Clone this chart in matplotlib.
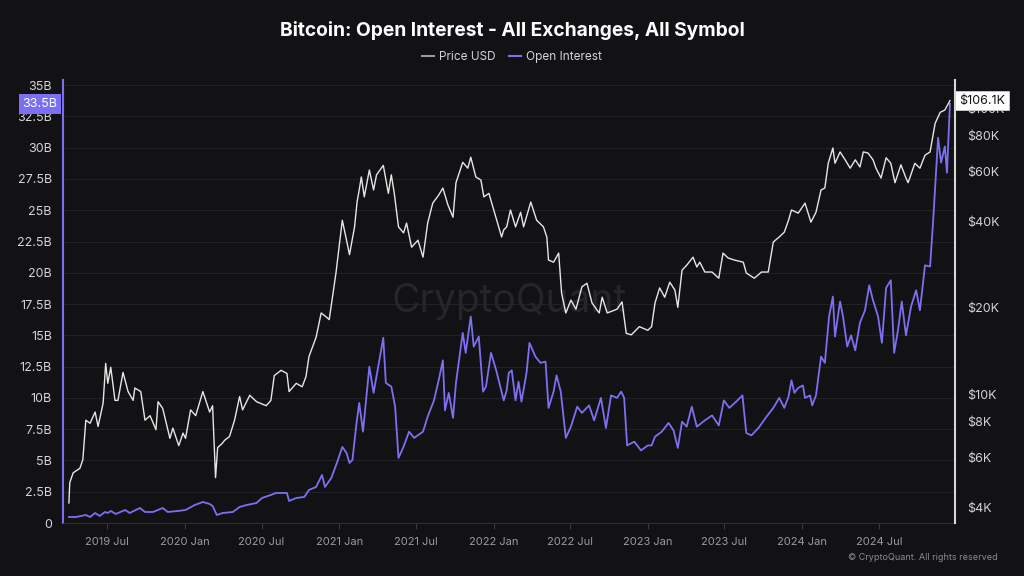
import matplotlib
matplotlib.use("Agg")
import matplotlib.pyplot as plt
import matplotlib.dates as mdates
from matplotlib.lines import Line2D
from matplotlib.ticker import FixedLocator, NullLocator
import pandas as pd

# ---------------- data ----------------
price_dates = [
    "2019-04-02", "2019-04-04", "2019-04-12", "2019-04-28", "2019-05-05", "2019-05-12", "2019-05-22",
    "2019-06-03", "2019-06-10", "2019-06-22", "2019-06-28", "2019-07-03", "2019-07-10", "2019-07-20",
    "2019-07-27", "2019-08-08", "2019-08-20", "2019-09-01", "2019-09-05", "2019-09-19", "2019-09-29",
    "2019-10-11", "2019-10-25", "2019-10-30", "2019-11-10", "2019-11-27", "2019-12-04", "2019-12-18",
    "2019-12-28", "2020-01-03", "2020-01-15", "2020-01-27", "2020-02-13", "2020-02-29", "2020-03-07",
    "2020-03-14", "2020-03-19", "2020-03-29", "2020-04-05", "2020-04-16", "2020-04-28", "2020-05-10",
    "2020-05-17", "2020-06-03", "2020-06-19", "2020-07-12", "2020-07-23", "2020-07-31", "2020-08-16",
    "2020-08-30", "2020-09-04", "2020-09-21", "2020-10-05", "2020-10-14", "2020-10-21", "2020-11-07",
    "2020-11-19", "2020-12-01", "2020-12-08", "2020-12-24", "2021-01-08", "2021-01-18", "2021-01-25",
    "2021-02-06", "2021-02-12", "2021-02-17", "2021-02-22", "2021-03-01", "2021-03-13", "2021-03-23",
    "2021-03-30", "2021-04-15", "2021-04-27", "2021-05-04", "2021-05-11", "2021-05-21", "2021-06-02",
    "2021-06-09", "2021-06-21", "2021-07-06", "2021-07-18", "2021-07-29", "2021-08-10", "2021-08-24",
    "2021-09-03", "2021-09-15", "2021-09-27", "2021-10-04", "2021-10-20", "2021-11-01", "2021-11-08",
    "2021-11-20", "2021-12-02", "2021-12-09", "2021-12-21", "2022-01-03", "2022-01-20", "2022-01-25",
    "2022-02-01", "2022-02-10", "2022-02-22", "2022-03-06", "2022-03-13", "2022-03-30", "2022-04-13",
    "2022-04-29", "2022-05-07", "2022-05-11", "2022-05-23", "2022-06-04", "2022-06-11", "2022-06-21",
    "2022-07-03", "2022-07-15", "2022-07-29", "2022-08-10", "2022-08-22", "2022-09-08", "2022-09-15",
    "2022-09-27", "2022-10-20", "2022-11-01", "2022-11-11", "2022-11-23", "2022-12-12", "2023-01-01",
    "2023-01-10", "2023-01-18", "2023-01-29", "2023-02-10", "2023-02-22", "2023-03-06", "2023-03-13",
    "2023-03-23", "2023-04-03", "2023-04-18", "2023-04-27", "2023-05-04", "2023-05-16", "2023-06-02",
    "2023-06-18", "2023-06-28", "2023-07-10", "2023-07-25", "2023-08-15", "2023-08-22", "2023-09-10",
    "2023-09-27", "2023-10-13", "2023-10-25", "2023-11-08", "2023-11-20", "2023-11-30", "2023-12-07",
    "2023-12-23", "2024-01-08", "2024-01-22", "2024-02-03", "2024-02-15", "2024-02-24", "2024-03-03",
    "2024-03-14", "2024-03-19", "2024-03-31", "2024-04-12", "2024-04-24", "2024-05-06", "2024-05-17",
    "2024-05-25", "2024-06-05", "2024-06-17", "2024-06-24", "2024-07-06", "2024-07-18", "2024-07-29",
    "2024-08-08", "2024-08-22", "2024-09-03", "2024-09-08", "2024-09-24", "2024-10-06", "2024-10-18",
    "2024-10-30", "2024-11-11", "2024-11-23", "2024-12-04", "2024-12-16",
]
price_usd = [
    4160, 4900, 5300, 5500, 5900, 8100, 7900,
    8650, 7700, 9300, 12800, 10900, 12400, 9500,
    9500, 11900, 10200, 9500, 10500, 10200, 8100,
    8400, 7500, 9400, 8900, 7000, 7600, 6600,
    7300, 7000, 8800, 8400, 10200, 8650, 9100,
    5100, 6500, 6700, 6900, 7100, 8100, 9800,
    8800, 9900, 9400, 9100, 9500, 11600, 12100,
    11800, 10200, 10900, 10600, 11500, 13500, 15800,
    19200, 18600, 18200, 26500, 40500, 34500, 30700,
    38400, 47000, 51700, 57400, 48900, 60700, 51700,
    58400, 63000, 50300, 58400, 50300, 38400, 36600,
    39600, 32600, 34500, 30100, 39600, 46500, 49600,
    52500, 45800, 41500, 54800, 64600, 61600, 67300,
    57400, 56000, 48900, 50300, 43200, 35400, 37500,
    38400, 44000, 38400, 43200, 38400, 46900, 40500,
    38400, 35400, 29400, 28900, 31100, 22500, 19200,
    21300, 19800, 23700, 24400, 20800, 19200, 21800,
    19200, 19800, 21000, 16300, 16100, 17200, 16700,
    17200, 20800, 23500, 21800, 24600, 23100, 20100,
    27100, 28200, 30100, 27800, 28900, 26700, 26700,
    25400, 31100, 29900, 29400, 28900, 26500, 25400,
    26700, 26700, 34000, 35400, 36800, 40500, 44000,
    42900, 46500, 39900, 43200, 51700, 52500, 64100,
    72500, 64100, 70200, 65900, 61600, 65900, 62200,
    70200, 69600, 65900, 61600, 56900, 67000, 64100,
    54800, 63300, 56900, 54800, 64100, 61600, 68400,
    70200, 88400, 96600, 98400, 106100,
]

oi_dates = [
    "2019-04-02", "2019-04-19", "2019-05-12", "2019-05-22", "2019-06-03", "2019-06-14", "2019-06-26",
    "2019-07-03", "2019-07-10", "2019-07-22", "2019-08-13", "2019-08-24", "2019-09-17", "2019-09-29",
    "2019-10-18", "2019-11-10", "2019-11-22", "2019-12-16", "2020-01-03", "2020-01-25", "2020-02-13",
    "2020-02-29", "2020-03-07", "2020-03-17", "2020-03-31", "2020-04-24", "2020-05-10", "2020-05-27",
    "2020-06-19", "2020-07-02", "2020-07-23", "2020-08-04", "2020-08-19", "2020-08-30", "2020-09-04",
    "2020-09-21", "2020-10-10", "2020-10-21", "2020-11-07", "2020-11-21", "2020-11-28", "2020-12-13",
    "2020-12-20", "2020-12-27", "2021-01-08", "2021-01-18", "2021-01-25", "2021-02-01", "2021-02-10",
    "2021-02-17", "2021-02-26", "2021-03-13", "2021-03-23", "2021-04-03", "2021-04-15", "2021-04-21",
    "2021-05-04", "2021-05-13", "2021-05-21", "2021-06-02", "2021-06-15", "2021-06-27", "2021-07-18",
    "2021-07-29", "2021-08-13", "2021-08-24", "2021-09-03", "2021-09-08", "2021-09-17", "2021-09-27",
    "2021-10-04", "2021-10-20", "2021-10-27", "2021-11-08", "2021-11-15", "2021-11-27", "2021-12-07",
    "2021-12-14", "2021-12-26", "2022-01-08", "2022-01-25", "2022-02-01", "2022-02-06", "2022-02-13",
    "2022-02-22", "2022-03-01", "2022-03-08", "2022-03-20", "2022-03-27", "2022-04-10", "2022-04-22",
    "2022-05-04", "2022-05-11", "2022-05-23", "2022-05-30", "2022-06-09", "2022-06-21", "2022-07-03",
    "2022-07-18", "2022-07-29", "2022-08-15", "2022-08-27", "2022-09-12", "2022-09-24", "2022-10-06",
    "2022-10-20", "2022-10-30", "2022-11-06", "2022-11-13", "2022-11-30", "2022-12-16", "2023-01-01",
    "2023-01-10", "2023-01-18", "2023-01-22", "2023-02-03", "2023-02-19", "2023-03-03", "2023-03-13",
    "2023-03-23", "2023-04-03", "2023-04-15", "2023-04-27", "2023-05-16", "2023-06-02", "2023-06-18",
    "2023-06-30", "2023-07-13", "2023-07-29", "2023-08-13", "2023-08-22", "2023-09-03", "2023-09-20",
    "2023-10-09", "2023-10-25", "2023-11-08", "2023-11-20", "2023-11-30", "2023-12-07", "2023-12-14",
    "2023-12-23", "2024-01-03", "2024-01-08", "2024-01-20", "2024-01-25", "2024-02-03", "2024-02-15",
    "2024-02-24", "2024-03-05", "2024-03-14", "2024-03-19", "2024-03-31", "2024-04-07", "2024-04-17",
    "2024-04-26", "2024-05-06", "2024-05-17", "2024-05-29", "2024-06-08", "2024-06-17", "2024-06-29",
    "2024-07-08", "2024-07-18", "2024-07-29", "2024-08-06", "2024-08-15", "2024-08-24", "2024-09-03",
    "2024-09-15", "2024-09-27", "2024-10-06", "2024-10-18", "2024-10-30", "2024-11-06", "2024-11-18",
    "2024-11-25", "2024-12-04", "2024-12-09", "2024-12-16",
]
open_interest_b = [
    0.48, 0.48, 0.64, 0.48, 0.80, 0.56, 0.88,
    0.80, 0.96, 0.72, 1.04, 0.80, 1.20, 0.88,
    0.88, 1.20, 0.88, 0.96, 1.04, 1.44, 1.68,
    1.52, 1.36, 0.64, 0.80, 0.88, 1.28, 1.44,
    1.60, 2.00, 2.24, 2.40, 2.40, 2.40, 1.76,
    2.00, 2.08, 2.64, 2.88, 3.84, 2.88, 3.60,
    4.24, 4.88, 6.08, 5.60, 4.80, 5.04, 7.80,
    9.60, 7.30, 12.5, 10.4, 12.5, 14.8, 11.2,
    10.9, 9.30, 5.20, 6.10, 7.30, 6.80, 7.30,
    8.50, 9.80, 11.4, 13.0, 9.00, 10.4, 8.40,
    11.2, 15.2, 13.6, 16.5, 14.1, 14.9, 10.5,
    10.9, 13.6, 12.1, 9.80, 10.6, 12.0, 12.2,
    9.80, 11.3, 9.70, 12.0, 14.4, 13.3, 12.8,
    12.9, 9.20, 10.5, 11.8, 10.5, 6.80, 7.70,
    9.30, 8.80, 9.40, 8.20, 10.0, 7.60, 10.2,
    10.0, 10.5, 10.0, 6.20, 6.50, 5.80, 6.20,
    6.20, 6.90, 7.00, 7.30, 8.00, 7.40, 6.00,
    8.10, 7.70, 9.30, 7.70, 8.20, 8.60, 7.80,
    9.80, 9.20, 9.70, 10.2, 7.20, 7.00, 7.60,
    8.50, 9.20, 10.0, 9.20, 10.1, 11.4, 10.4,
    10.8, 11.0, 10.0, 10.2, 9.40, 10.2, 13.3,
    12.8, 16.5, 18.1, 14.9, 17.7, 16.5, 14.1,
    15.0, 13.8, 16.0, 17.0, 19.0, 17.8, 16.5,
    14.4, 18.8, 19.4, 13.6, 15.4, 17.7, 15.0,
    17.3, 18.6, 17.0, 20.6, 20.5, 24.0, 30.8,
    28.8, 30.1, 28.0, 33.5,
]

left_ticks = [0, 2.5, 5, 7.5, 10, 12.5, 15, 17.5, 20, 22.5, 25, 27.5, 30, 32.5, 35]
left_labels = ["0", "2.5B", "5B", "7.5B", "10B", "12.5B", "15B", "17.5B", "20B",
               "22.5B", "25B", "27.5B", "30B", "32.5B", "35B"]
right_ticks = [4000, 6000, 8000, 10000, 20000, 40000, 60000, 80000, 100000]
right_labels = ["$4K", "$6K", "$8K", "$10K", "$20K", "$40K", "$60K", "$80K", "$100K"]
x_ticks = ["2019-07-01", "2020-01-01", "2020-07-01", "2021-01-01", "2021-07-01", "2022-01-01",
           "2022-07-01", "2023-01-01", "2023-07-01", "2024-01-01", "2024-07-01"]
x_labels = ["2019 Jul", "2020 Jan", "2020 Jul", "2021 Jan", "2021 Jul", "2022 Jan",
            "2022 Jul", "2023 Jan", "2023 Jul", "2024 Jan", "2024 Jul"]
last_oi_label = "33.5B"
last_price_label = "$106.1K"

# ---------------- style ----------------
BG = "#121215"
OI_COLOR = "#7b70f2"
PRICE_COLOR = "#e6e6e6"
TEXT = "#d4d4d8"
GRID = "#222226"
plt.rcParams["font.family"] = ["Inter", "DejaVu Sans"]

fig = plt.figure(figsize=(10.24, 5.76), dpi=100, facecolor=BG)
ax = fig.add_axes([63 / 1024, 53 / 576, (955 - 63) / 1024, (523 - 80) / 576])
ax.set_facecolor(BG)
ax2 = ax.twinx()

pdates = pd.to_datetime(price_dates)
odates = pd.to_datetime(oi_dates)

ax.plot(odates, open_interest_b, color=OI_COLOR, lw=1.3, zorder=3)
ax2.plot(pdates, price_usd, color=PRICE_COLOR, lw=1.0, zorder=3)

ax.set_xlim(pd.Timestamp("2019-03-19"), pd.Timestamp("2024-12-28"))
ax.set_ylim(0, 35.41)
ax2.set_yscale("log")
ax2.set_ylim(3540, 125300)

# left axis
ax.set_yticks(left_ticks)
ax.set_yticklabels(left_labels)
ax.tick_params(axis="y", length=0, pad=8, labelsize=9, labelcolor=TEXT)
ax.grid(axis="y", color=GRID, lw=0.8)
ax.set_axisbelow(True)

# right axis
ax2.yaxis.set_major_locator(FixedLocator(right_ticks))
ax2.yaxis.set_minor_locator(NullLocator())
ax2.set_yticklabels(right_labels)
ax2.tick_params(axis="y", which="both", length=0, pad=9, labelsize=9, labelcolor=TEXT)

# x axis
ax.set_xticks(pd.to_datetime(x_ticks))
ax.set_xticklabels(x_labels)
ax.tick_params(axis="x", length=4, color="#3a3a3e", pad=6, labelsize=8, labelcolor="#9a9aa0")

for a in (ax, ax2):
    a.spines["top"].set_visible(False)
ax.spines["left"].set_color(OI_COLOR)
ax.spines["left"].set_linewidth(1.5)
ax.spines["right"].set_visible(False)
ax.spines["bottom"].set_color("#2e2e32")
ax2.spines["left"].set_visible(False)
ax2.spines["bottom"].set_visible(False)
ax2.spines["right"].set_color("#d8d8d8")
ax2.spines["right"].set_linewidth(1.5)

# last-value badges
ax.annotate(last_oi_label, xy=(0, open_interest_b[-1]), xycoords=("axes fraction", "data"),
            xytext=(-4, 0), textcoords="offset points", ha="right", va="center",
            fontsize=9, color="white", zorder=10, annotation_clip=False,
            bbox=dict(boxstyle="square,pad=0.3", fc=OI_COLOR, ec="none"))
ax2.annotate(last_price_label, xy=(1, price_usd[-1]), xycoords=("axes fraction", "data"),
             xytext=(3, 0), textcoords="offset points", ha="left", va="center",
             fontsize=9, color="#111111", zorder=10, annotation_clip=False,
             bbox=dict(boxstyle="square,pad=0.3", fc="white", ec="#cccccc", lw=0.6))

# watermark
ax.text(0.5, 0.5, "CryptoQuant", transform=ax.transAxes, ha="center", va="center",
        fontsize=28, color="#25252a", zorder=1)

# title and legend
fig.text(0.5, 1 - 30 / 576, "Bitcoin: Open Interest - All Exchanges, All Symbol",
         ha="center", va="center", fontsize=13.8, fontweight="bold", color="white")
handles = [Line2D([], [], color="#9a9a9a", lw=1.5), Line2D([], [], color=OI_COLOR, lw=1.5)]
fig.legend(handles, ["Price USD", "Open Interest"], loc="center", bbox_to_anchor=(0.5, 1 - 57 / 576),
           ncol=2, frameon=False, fontsize=8.5, labelcolor=TEXT, handlelength=1.0,
           handletextpad=0.4, columnspacing=1.2)

fig.text(998 / 1024, 1 - 558 / 576, "© CryptoQuant. All rights reserved", ha="right", va="center",
         fontsize=6.5, color="#8a8a90")

fig.savefig("out.png", dpi=100, facecolor=BG)
